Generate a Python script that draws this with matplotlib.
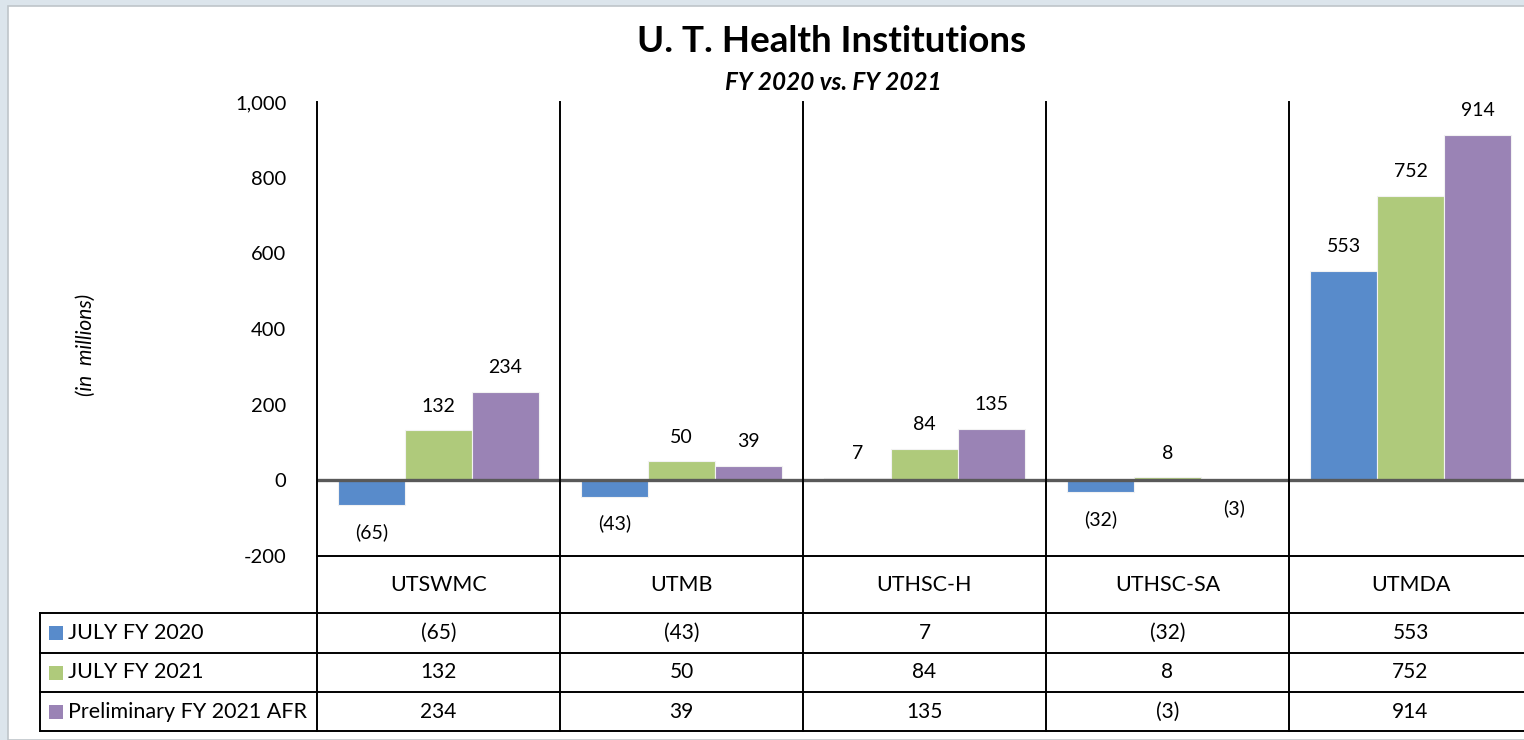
import matplotlib
matplotlib.use("Agg")
import matplotlib.pyplot as plt
import matplotlib.transforms as mtransforms
from matplotlib.patches import Rectangle

# ---------------- data ----------------
categories = ["UTSWMC", "UTMB", "UTHSC-H", "UTHSC-SA", "UTMDA"]
series_names = ["JULY FY 2020", "JULY FY 2021", "Preliminary FY 2021 AFR"]
july_fy2020 = [-65, -43, 7, -32, 553]
july_fy2021 = [132, 50, 84, 8, 752]
prelim_fy2021_afr = [234, 39, 135, -3, 914]
yticks = [-200, 0, 200, 400, 600, 800, 1000]
title = "U. T. Health Institutions"
subtitle = "FY 2020 vs. FY 2021"
ylabel = "(in  millions)"

series = [july_fy2020, july_fy2021, prelim_fy2021_afr]
colors = ["#588BCB", "#AFCA7B", "#9A83B5"]

FONT = "Lato"
plt.rcParams["font.family"] = [FONT, "DejaVu Sans"]

W, H = 1524, 740
fig = plt.figure(figsize=(W / 100, H / 100), dpi=100)
fig.patch.set_facecolor("#DCE5EC")


def fx(x):
    return x / W


def fy(y):
    return 1 - y / H


# white page
fig.patches.append(Rectangle((fx(8), 0), 1, fy(6), transform=fig.transFigure,
                             facecolor="white", edgecolor="#BFC5CA", lw=1.2, zorder=-10))

ax_left, ax_right, ax_top, ax_bot = 317, 1532, 102, 556
ax = fig.add_axes([fx(ax_left), fy(ax_bot), fx(ax_right) - fx(ax_left), fy(ax_top) - fy(ax_bot)])
ax.set_zorder(1)
ax.set_facecolor("none")
ax.set_xlim(0, len(categories))
ax.set_ylim(-200, 1000)
for s in ax.spines.values():
    s.set_visible(False)
ax.set_xticks([])
ax.set_yticks(yticks)
ax.set_yticklabels([f"{v:,}" for v in yticks], fontsize=14.5)
ax.tick_params(axis="y", length=0, pad=22)

bw = 67 / 243
for k, vals in enumerate(series):
    xs = [i + 0.5 + (k - 1) * bw for i in range(len(categories))]
    ax.bar(xs, vals, width=bw, color=colors[k], edgecolor="#F2F2F2", linewidth=0.8, zorder=2)
    for x, v in zip(xs, vals):
        lab = f"({abs(v)})" if v < 0 else f"{v}"
        off = 17.5 if v >= 0 else -19.5
        ax.annotate(lab, (x, v), xytext=(0, off), textcoords="offset points",
                    ha="center", va="center", fontsize=14)

ax.axhline(0, color="#595959", lw=2.4, zorder=3)

# grid / table lines
bt = mtransforms.blended_transform_factory(ax.transData, fig.transFigure)
lc = "black"
lw = 1.4
for i in range(len(categories) + 1):
    ax.plot([i, i], [fy(ax_top), fy(731)], transform=bt, color=lc, lw=lw, clip_on=False, zorder=4)
ax.plot([0, len(categories)], [fy(556), fy(556)], transform=bt, color=lc, lw=lw, clip_on=False)
row_lines = [613, 653, 692, 731]
for yl in row_lines:
    fig.add_artist(plt.Line2D([fx(40), 1.01], [fy(yl), fy(yl)], color=lc, lw=lw))
fig.add_artist(plt.Line2D([fx(40), fx(40)], [fy(613), fy(731)], color=lc, lw=lw))

# category labels row
for i, c in enumerate(categories):
    ax.text(i + 0.5, fy(585), c, transform=bt, ha="center", va="center", fontsize=15.5)

# table rows
for r, (name, vals) in enumerate(zip(series_names, series)):
    yc = (row_lines[r] + row_lines[r + 1]) / 2
    fig.patches.append(Rectangle((fx(49), fy(yc + 7)), fx(14), 14 / H, transform=fig.transFigure,
                                 facecolor=colors[r], edgecolor="none"))
    fig.text(fx(68), fy(yc), name, ha="left", va="center", fontsize=15.5)
    for i, v in enumerate(vals):
        lab = f"({abs(v)})" if v < 0 else f"{v}"
        ax.text(i + 0.5, fy(yc), lab, transform=bt, ha="center", va="center", fontsize=15)

fig.text(fx(832), fy(41), title, ha="center", va="center", fontsize=26.5, fontweight="bold")
fig.text(fx(833), fy(82), subtitle, ha="center", va="center", fontsize=17.5,
         fontweight="bold", fontstyle="italic")
fig.text(fx(86), fy(345), ylabel, ha="center", va="center", fontsize=15,
         fontstyle="italic", rotation=90)

fig.savefig("out.png", dpi=100, facecolor=fig.get_facecolor())
